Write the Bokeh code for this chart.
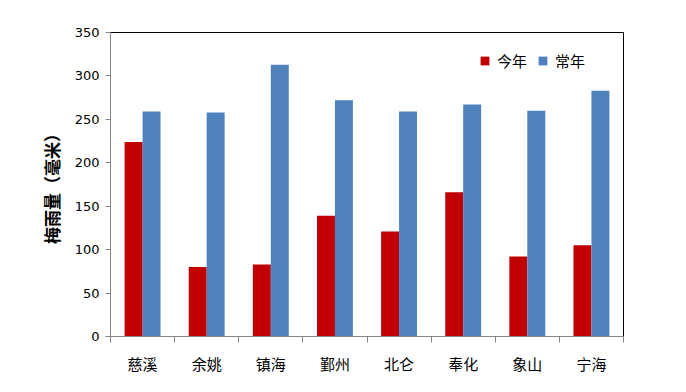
from bokeh.plotting import figure
from bokeh.models import FixedTicker, Range1d, ColumnDataSource, Legend, LegendItem
from bokeh.embed import file_html
from bokeh.resources import INLINE
import numpy as np

categories = ["慈溪", "余姚", "镇海", "鄞州", "北仑", "奉化", "象山", "宁海"]
this_year = [224, 80, 83, 139, 121, 166, 92, 105]
normal_year = [259, 258, 313, 272, 259, 267, 260, 283]
series_names = ["今年", "常年"]
y_ticks = [0, 50, 100, 150, 200, 250, 300, 350]

idx = np.arange(len(categories))
bw = 0.28
src = ColumnDataSource(dict(
    xr=idx + 0.5 - bw / 2,
    xb=idx + 0.5 + bw / 2,
    a=this_year,
    b=normal_year,
))

p = figure(width=678, height=384, output_backend="svg", toolbar_location=None,
           x_range=Range1d(0, len(categories)), y_range=Range1d(0, 350))
p.min_border_left = 110
p.min_border_right = 55
p.min_border_top = 32
p.min_border_bottom = 48
p.outline_line_color = "black"
p.outline_line_width = 1
p.grid.visible = False
p.background_fill_color = "white"
p.border_fill_color = "white"

r1 = p.vbar(x="xr", top="a", width=bw, source=src, color="#C00000", line_color=None)
r2 = p.vbar(x="xb", top="b", width=bw, source=src, color="#4F81BD", line_color=None)

centers = [float(i) + 0.5 for i in idx]
p.xaxis.ticker = FixedTicker(ticks=centers, minor_ticks=[float(i) for i in range(len(categories) + 1)])
p.xaxis.major_label_overrides = {c: n for c, n in zip(centers, categories)}
p.xaxis.major_tick_out = 0
p.xaxis.major_tick_in = 0
p.xaxis.minor_tick_out = 6
p.xaxis.minor_tick_in = 0
p.xaxis.minor_tick_line_color = "#868686"
p.xaxis.axis_line_color = "#868686"
p.xaxis.major_label_text_font = "Noto Sans CJK SC"
p.xaxis.major_label_text_font_size = "15px"
p.xaxis.major_label_text_color = "black"
p.xaxis.major_label_standoff = 10

p.yaxis.ticker = FixedTicker(ticks=y_ticks)
p.yaxis.minor_tick_line_color = None
p.yaxis.major_tick_out = 5
p.yaxis.major_tick_in = 0
p.yaxis.major_tick_line_color = "#868686"
p.yaxis.axis_line_color = "#868686"
p.yaxis.major_label_text_font = "DejaVu Sans"
p.yaxis.major_label_text_font_size = "13px"
p.yaxis.major_label_text_color = "black"
p.yaxis.major_label_standoff = 6
p.yaxis.axis_label = "梅雨量（毫米）"
p.yaxis.axis_label_text_font = "Noto Sans CJK SC"
p.yaxis.axis_label_text_font_style = "bold"
p.yaxis.axis_label_text_font_size = "17px"
p.yaxis.axis_label_text_color = "black"
p.yaxis.axis_label_standoff = 8

legend = Legend(items=[LegendItem(label=series_names[0], renderers=[r1]),
                       LegendItem(label=series_names[1], renderers=[r2])],
                location=(369, 265), orientation="horizontal")
legend.border_line_color = None
legend.background_fill_alpha = 0
legend.label_text_font = "Noto Sans CJK SC"
legend.label_text_font_size = "15px"
legend.glyph_width = 11
legend.glyph_height = 11
legend.spacing = 10
legend.label_standoff = 7
legend.padding = 0
legend.margin = 0
legend.label_text_color = "black"
p.add_layout(legend)

open("out.html", "w").write(file_html(p, INLINE))
